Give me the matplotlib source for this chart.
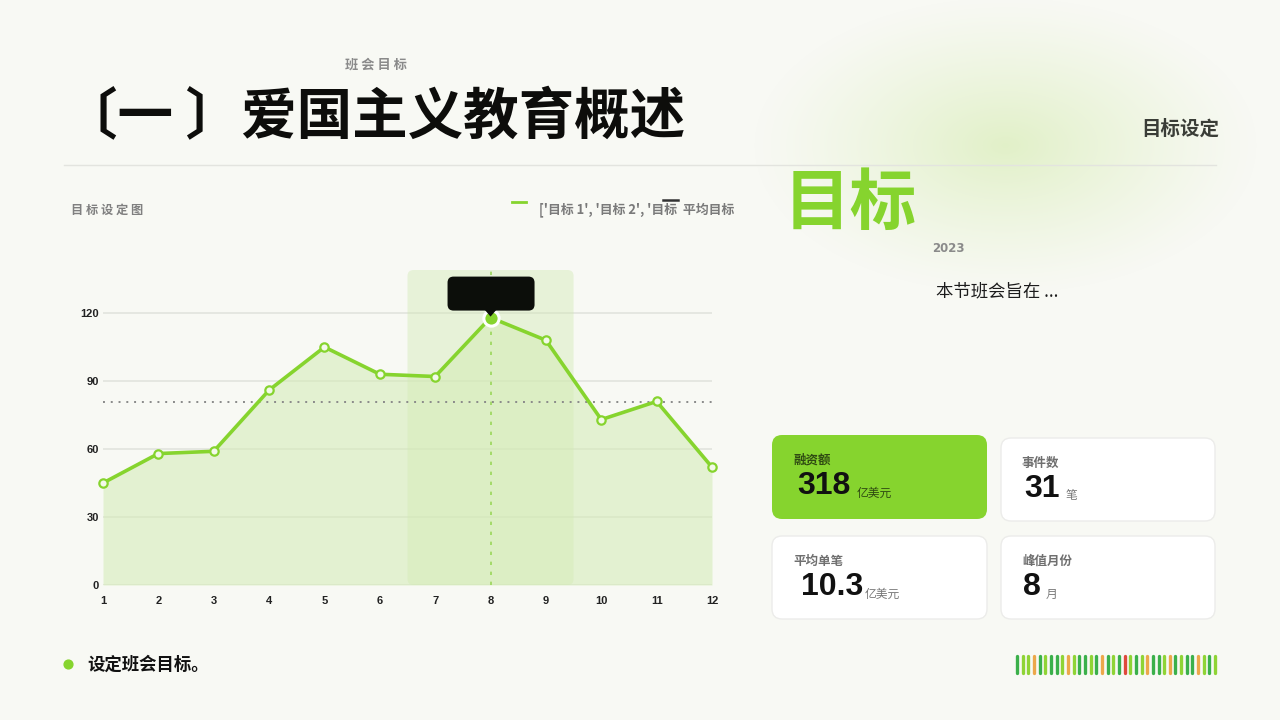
import numpy as np
import matplotlib
matplotlib.use("Agg")
import matplotlib.pyplot as plt
from matplotlib.patches import FancyBboxPatch, Polygon

plt.rcParams['font.family'] = ['Noto Sans CJK SC', 'DejaVu Sans']

# 数据
months = [1, 2, 3, 4, 5, 6, 7, 8, 9, 10, 11, 12]
values = [45, 58, 59, 86, 105, 93, 92, 118, 108, 73, 81, 52]
y_ticks = [0, 30, 60, 90, 120]
peak_month = 8
band_range = (6.5, 9.5)

card_titles = ["融资额", "事件数", "平均单笔", "峰值月份"]
card_values = ["318", "31", "10.3", "8"]
card_units = ["亿美元", "笔", "亿美元", "月"]

bar_colors = list("GLLOGLGGLOLGGLGOGLGRLGLOGGLOGLGGOLGL")
bar_map = {"G": "#3bb04a", "L": "#8fd435", "O": "#eca84a", "R": "#df4a3c"}

GREEN = "#86d42e"
BG = "#f8f9f4"
W, H = 1280, 720

fig = plt.figure(figsize=(12.8, 7.2), dpi=100)
fig.patch.set_facecolor(BG)

# 背景层（像素坐标）
bg = fig.add_axes([0, 0, 1, 1], zorder=0)
bg.axis("off")

# 右上角绿色光晕
gx, gy = np.meshgrid(np.arange(740, 1280), np.arange(0, 330))
r = np.sqrt(((gx - 1005) / 255.0) ** 2 + ((gy - 145) / 150.0) ** 2)
alpha = np.clip(1 - r, 0, 1) ** 1.2 * 0.58
img = np.zeros(gx.shape + (4,))
img[..., 0] = 0.82
img[..., 1] = 0.92
img[..., 2] = 0.66
img[..., 3] = alpha
bg.imshow(img, extent=(740, 1280, 330, 0), aspect="auto", interpolation="bilinear", zorder=0)
bg.set_xlim(0, W)
bg.set_ylim(H, 0)

# 标题区域
bg.text(376, 65, "班 会 目 标", fontsize=9.5, fontweight="bold", color="#8a8a8a", ha="center", va="center")
bg.text(62, 118, "〔一 〕爱国主义教育概述", fontsize=40, fontweight="bold", color="#0d0d0b",
        ha="left", va="center")
bg.plot([64, 1216], [165, 165], color="#e3e4df", lw=1)
bg.text(1219, 129, "目标设定", fontsize=14, fontweight="bold", color="#3a3d37", ha="right", va="center")

# 图表标题和图例
bg.text(71, 210, "目 标 设 定 图", fontsize=8.8, fontweight="bold", color="#808080", ha="left", va="center")
bg.plot([512, 526], [202, 202], color=GREEN, lw=2)
bg.text(734, 210, "['目标 1', '目标 2', '目标  平均目标", fontsize=9.3, fontweight="bold",
        color="#7a7a7a", ha="right", va="center")
bg.plot([663, 678], [200, 200], color="#333333", lw=1.8)

# 右侧文字
bg.text(784, 204, "目标", fontsize=48, fontweight="bold", color=GREEN, ha="left", va="center")
bg.text(948, 249, "2023", fontsize=8.5, fontweight="bold", family=["DejaVu Sans"],
        color="#8a8a8a", ha="center", va="center")
bg.text(997, 291, "本节班会旨在 ...", fontsize=12.5, color="#1c1c1c", ha="center", va="center")

# 指标卡片
card_boxes = [(772, 435, 215, 84), (1001, 438, 214, 83), (772, 536, 215, 83), (1001, 536, 214, 83)]
value_offsets = [25, 23, 29, 22]
unit_gaps = [6, 6, 1, 5]
for i, (x0, y0, w, h) in enumerate(card_boxes):
    green = i == 0
    box = FancyBboxPatch((x0, y0), w, h, boxstyle="round,pad=0,rounding_size=10",
                         facecolor=GREEN if green else "white",
                         edgecolor="none" if green else "#ececea", lw=1, zorder=2)
    bg.add_patch(box)
    bg.text(x0 + 21, y0 + 25, card_titles[i], fontsize=9, fontweight="bold",
            color="#2f4a12" if green else "#6f6f6f", ha="left", va="center", zorder=3)
    t = bg.text(x0 + value_offsets[i], y0 + 51, card_values[i], fontsize=23, fontweight="bold",
                family=["Liberation Sans", "DejaVu Sans"], color="#111111",
                ha="left", va="center", zorder=3)
    fig.canvas.draw()
    bb = t.get_window_extent()
    bg.text(bb.x1 + unit_gaps[i], y0 + 58, card_units[i], fontsize=8.5,
            color="#2f4a12" if green else "#777777", ha="left", va="center", zorder=3)

# 底部条码装饰
for i, c in enumerate(bar_colors):
    bx = 1017 + i * 5.66
    bg.plot([bx, bx], [656, 673], color=bar_map[c], lw=2.4, solid_capstyle="round")

# 底部要点
bg.scatter([68], [664], s=40, color=GREEN, zorder=3)
bg.text(87, 665, "设定班会目标。", fontsize=12.5, fontweight="bold", color="#111111", ha="left", va="center")

# 折线面积图
ax = fig.add_axes([103 / W, (H - 585) / H, (712 - 103) / W, 315 / H], zorder=1)
ax.patch.set_alpha(0)
ax.set_xlim(1, 12)
ax.set_ylim(0, 139)

band = FancyBboxPatch((band_range[0], 0), band_range[1] - band_range[0], 139,
                      boxstyle="round,pad=0,rounding_size=0.11", mutation_aspect=24,
                      facecolor="#cfe9b0", alpha=0.4, edgecolor="none", zorder=1)
ax.add_patch(band)

for yt in y_ticks:
    ax.axhline(yt, color="#e2e4de", lw=1.2, zorder=0)

ax.fill_between(months, values, color="#d3ebb5", alpha=0.55, lw=0, zorder=2)
ax.axvline(peak_month, color="#9bd65a", lw=1.2, linestyle=(0, (2, 4)), zorder=3)
ax.axhline(np.mean(values), color="#8a8a8a", lw=1.4, linestyle=(0, (1, 3)), zorder=3)
ax.plot(months, values, color=GREEN, lw=2.6, marker="o", markersize=6,
        markerfacecolor="#f3f9ea", markeredgecolor=GREEN, markeredgewidth=1.6, zorder=4, clip_on=False)
pk = months.index(peak_month)
ax.plot([peak_month], [values[pk]], marker="o", markersize=11, markerfacecolor=GREEN,
        markeredgecolor="white", markeredgewidth=2.2, zorder=5)

ax.set_xticks(months)
ax.set_yticks(y_ticks)
tick_font = ["Liberation Sans Narrow", "Liberation Sans", "DejaVu Sans"]
ax.set_xticklabels([str(m) for m in months], fontsize=8, fontweight="bold", family=tick_font, color="#222222")
ax.set_yticklabels([str(v) for v in y_ticks], fontsize=8, fontweight="bold", family=tick_font, color="#222222")
ax.tick_params(axis="both", length=0)
ax.tick_params(axis="x", pad=8)
ax.tick_params(axis="y", pad=3)
for s in ax.spines.values():
    s.set_visible(False)

# 提示框
top = fig.add_axes([0, 0, 1, 1], zorder=2)
top.patch.set_alpha(0)
top.set_xlim(0, W)
top.set_ylim(H, 0)
top.axis("off")
fig.canvas.draw()
px, py = ax.transData.transform((peak_month, values[pk]))
py = H - py
tip = FancyBboxPatch((px - 43, py - 41), 87, 34, boxstyle="round,pad=0,rounding_size=6",
                     facecolor="#0c0e0a", edgecolor="none", zorder=6)
top.add_patch(tip)
top.add_patch(Polygon([(px - 6, py - 8), (px + 6, py - 8), (px, py - 1)], closed=True,
                      facecolor="#0c0e0a", edgecolor="none", zorder=6))

fig.savefig("out.png", dpi=100, facecolor=BG)
